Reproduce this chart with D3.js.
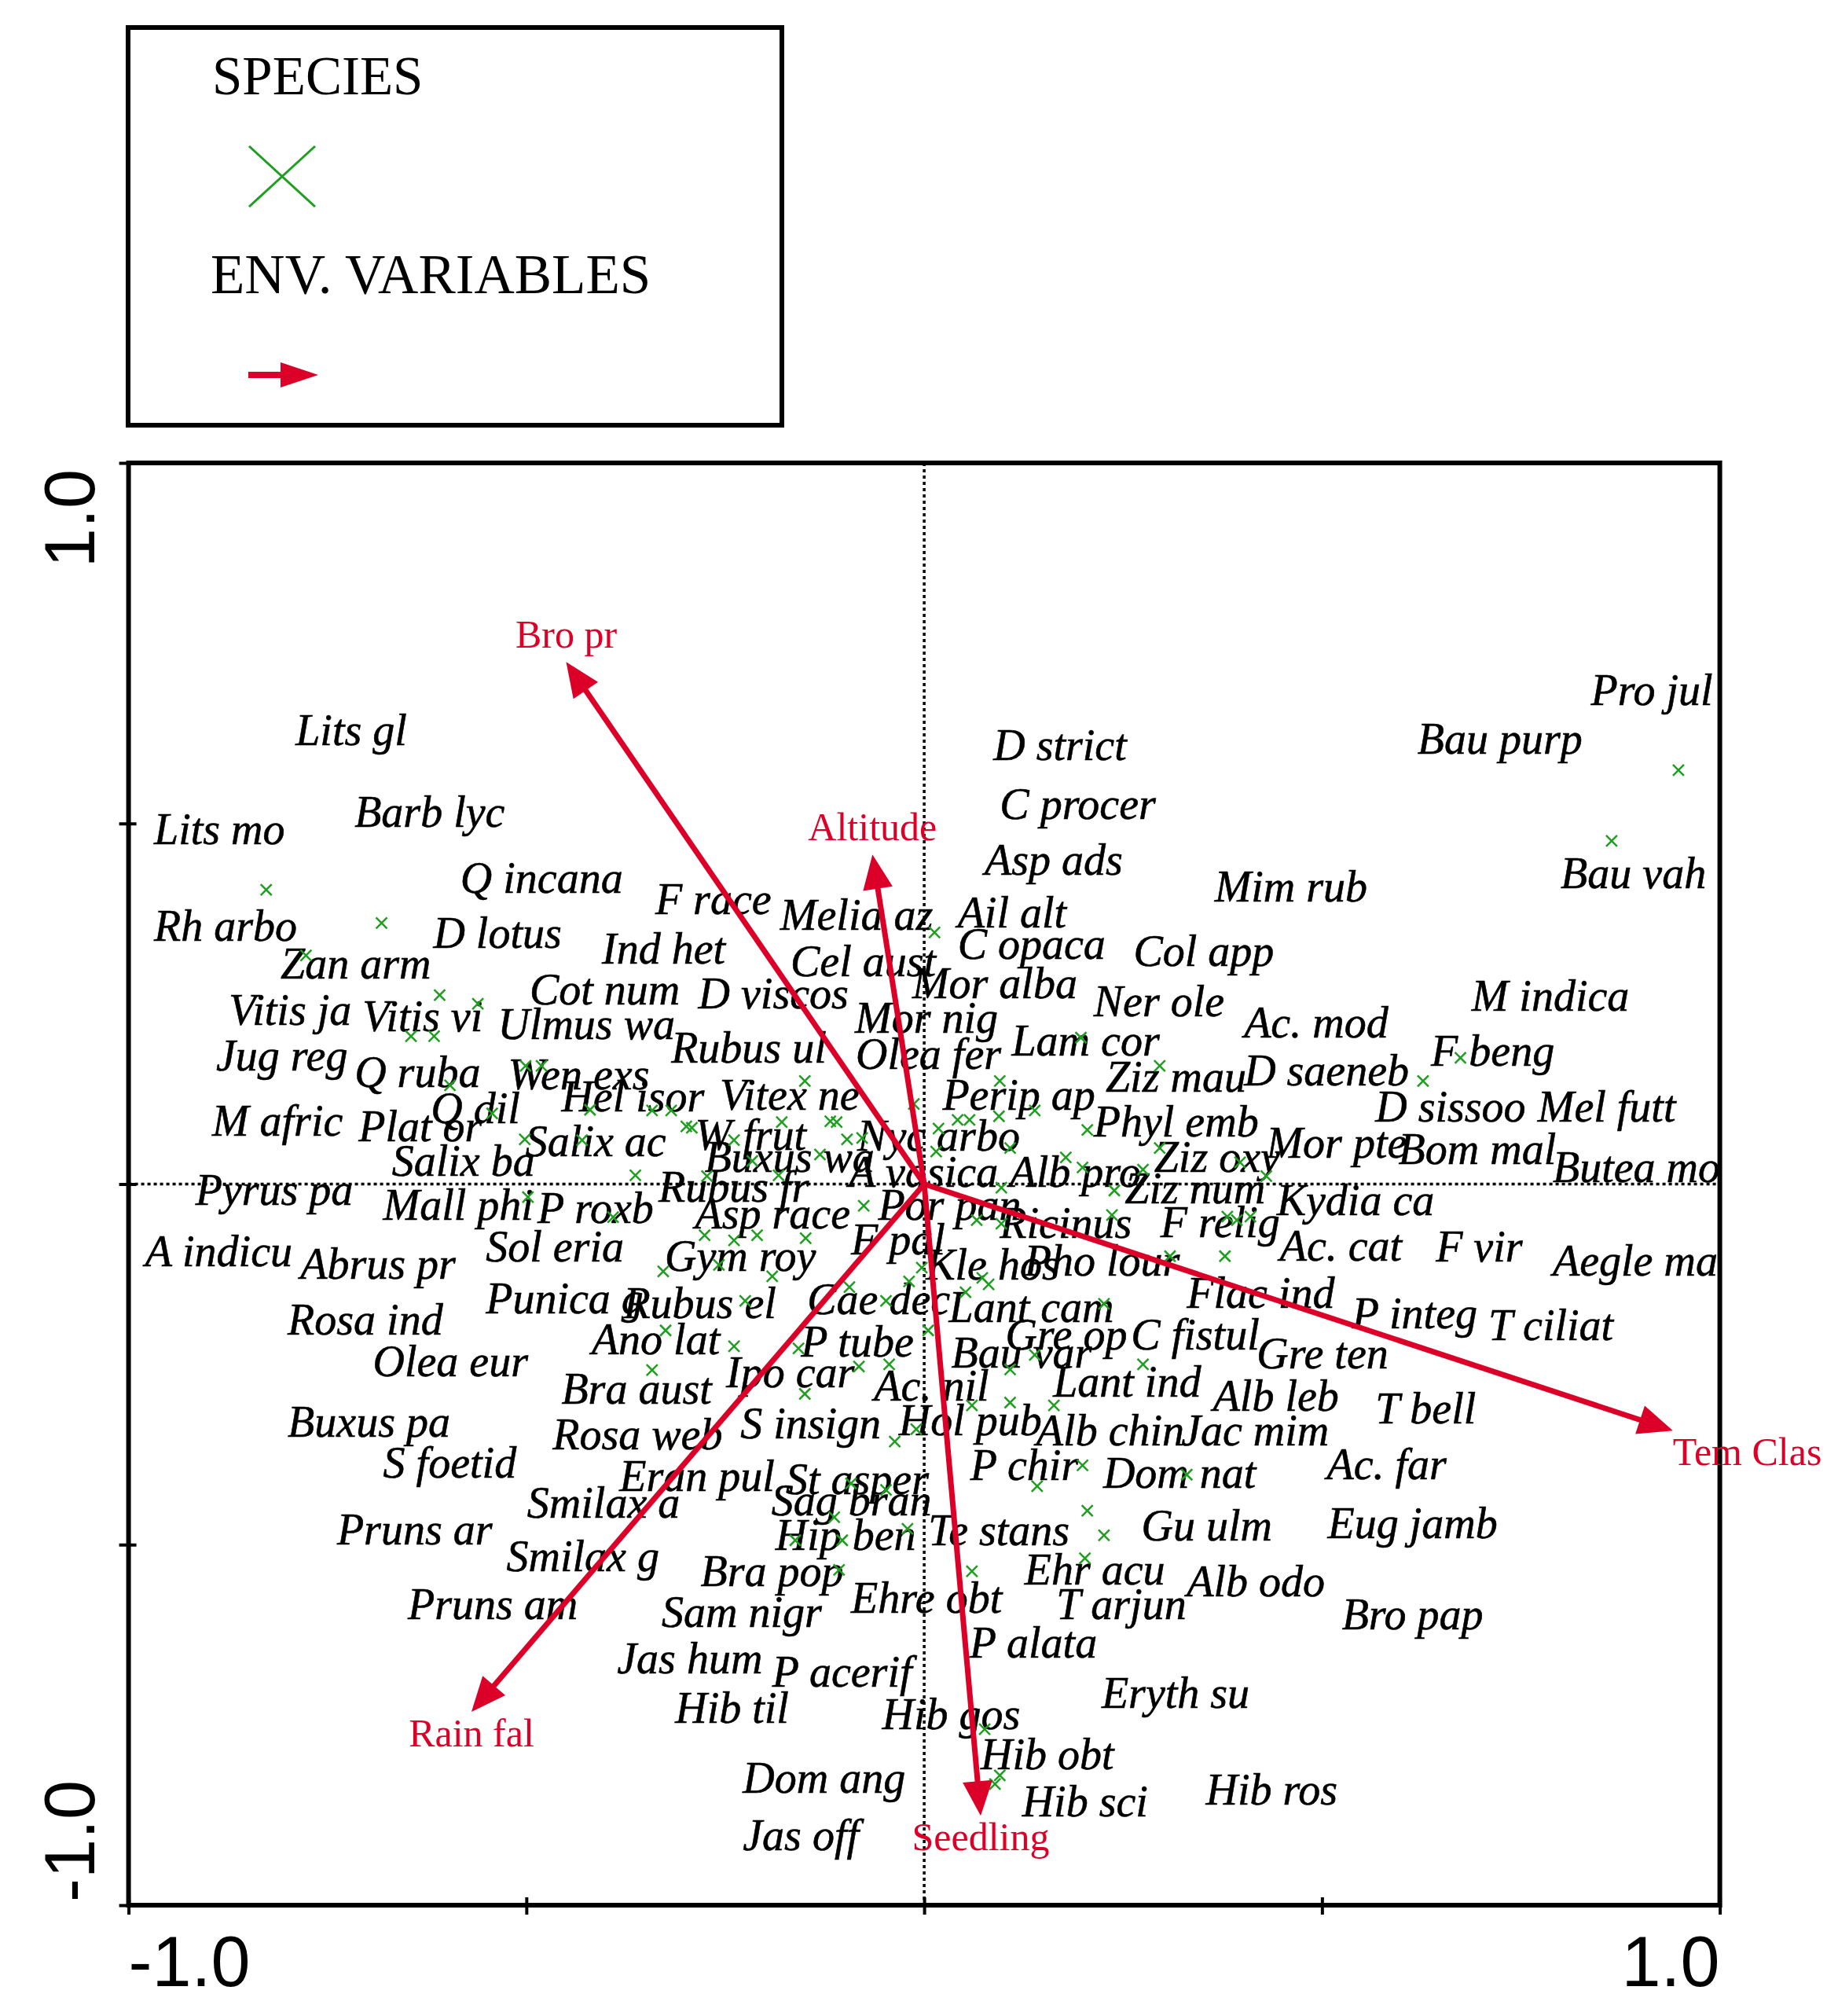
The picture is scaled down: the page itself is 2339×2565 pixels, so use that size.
<!DOCTYPE html>
<html>
<head>
<meta charset="utf-8">
<script src="https://cdn.jsdelivr.net/npm/d3@7"></script>
<style>
  html, body { margin: 0; padding: 0; background: #fff; }
  svg { display: block; }
</style>
</head>
<body>
<svg id="chart" width="2339" height="2565"></svg>
<script>
// Axis ticks and end labels
const tickValues = [-1, -0.5, 0, 0.5, 1];
const axisEndLabels = ["-1.0", "1.0"];

// Environmental variables (arrow tips, data units)
const envNames = ["Bro pr", "Altitude", "Tem Clas", "Seedling", "Rain fal"];
const envX = [-0.450, -0.065, 0.941, 0.071, -0.569];
const envY = [0.724, 0.457, -0.342, -0.876, -0.732];

// Species labels: [name, left x, middle y] in data units
const speciesLabels = [
  ["Lits gl", -0.790, 0.629], ["Lits mo", -0.968, 0.492], ["Barb lyc", -0.716, 0.515],
  ["Q incana", -0.583, 0.424], ["Rh arbo", -0.968, 0.358], ["D lotus", -0.617, 0.348],
  ["F race", -0.338, 0.394], ["Ind het", -0.405, 0.326], ["Zan arm", -0.809, 0.305],
  ["Melia az", -0.181, 0.373], ["Ail alt", 0.042, 0.376], ["Cel aust", -0.168, 0.308],
  ["C opaca", 0.042, 0.332], ["Col app", 0.263, 0.323], ["D strict", 0.087, 0.608],
  ["C procer", 0.095, 0.526], ["Asp ads", 0.076, 0.449], ["Mim rub", 0.365, 0.412],
  ["Pro jul", 0.838, 0.684], ["Bau purp", 0.620, 0.617], ["Bau vah", 0.800, 0.431],
  ["Vitis ja", -0.874, 0.241], ["Vitis vi", -0.706, 0.232], ["Cot num", -0.496, 0.269],
  ["D viscos", -0.284, 0.264], ["Mor alba", -0.015, 0.278], ["Ner ole", 0.213, 0.253],
  ["M indica", 0.688, 0.260], ["Ulmus wa", -0.536, 0.221], ["Mor nig", -0.087, 0.230],
  ["Ac. mod", 0.402, 0.223], ["Jug reg", -0.890, 0.178], ["Q ruba", -0.716, 0.155],
  ["Rubus ul", -0.318, 0.189], ["Olea fer", -0.086, 0.180], ["Lam cor", 0.110, 0.198],
  ["F beng", 0.637, 0.184], ["Wen exs", -0.523, 0.152], ["Ziz mau", 0.228, 0.148],
  ["D saeneb", 0.402, 0.157], ["Hel isor", -0.456, 0.121], ["Vitex ne", -0.257, 0.123],
  ["Perip ap", 0.023, 0.123], ["D sissoo", 0.567, 0.107], ["Mel futt", 0.771, 0.107],
  ["M afric", -0.895, 0.087], ["Plat or", -0.711, 0.080], ["Q dil", -0.620, 0.105],
  ["Phyl emb", 0.213, 0.086], ["Salix ac", -0.501, 0.059], ["W frut", -0.288, 0.068],
  ["Nyc arbo", -0.084, 0.066], ["Salix ba", -0.669, 0.032], ["Buxus wa", -0.276, 0.037],
  ["Mor pte", 0.430, 0.057], ["Bom mal", 0.596, 0.048], ["Ziz oxy", 0.289, 0.037],
  ["Butea mo", 0.790, 0.023], ["A vasica", -0.095, 0.016], ["Alb pro", 0.107, 0.016],
  ["Ziz num", 0.252, -0.007], ["Kydia ca", 0.443, -0.023], ["Pyrus pa", -0.916, -0.009],
  ["Mall phi", -0.680, -0.029], ["P roxb", -0.486, -0.034], ["Rubus fr", -0.334, -0.004],
  ["Asp race", -0.288, -0.041], ["Por pan", -0.058, -0.029], ["Ricinus", 0.095, -0.055],
  ["F relig", 0.297, -0.053], ["F pal", -0.092, -0.077], ["Ac. cat", 0.447, -0.086],
  ["F vir", 0.643, -0.087], ["Aegle ma", 0.790, -0.107], ["A indicu", -0.979, -0.094],
  ["Abrus pr", -0.784, -0.111], ["Sol eria", -0.551, -0.087], ["Gym roy", -0.326, -0.100],
  ["Kle hos", 0.002, -0.112], ["Pho lour", 0.126, -0.107], ["Flac ind", 0.330, -0.152],
  ["P integ", 0.538, -0.180], ["T ciliat", 0.709, -0.196], ["Punica g", -0.551, -0.159],
  ["Rubus el", -0.378, -0.166], ["Cae dec", -0.147, -0.160], ["Lant cam", 0.031, -0.171],
  ["Rosa ind", -0.800, -0.189], ["Gre op", 0.102, -0.209], ["C fistul", 0.260, -0.209],
  ["Gre ten", 0.418, -0.235], ["Ano lat", -0.418, -0.216], ["P tube", -0.155, -0.219],
  ["Olea eur", -0.693, -0.246], ["Bau var", 0.034, -0.234], ["Ipo car", -0.249, -0.262],
  ["Lant ind", 0.162, -0.275], ["Ac. nil", -0.063, -0.280], ["Bra aust", -0.456, -0.285],
  ["Alb leb", 0.363, -0.294], ["T bell", 0.567, -0.312], ["Buxus pa", -0.800, -0.330],
  ["Rosa web", -0.467, -0.348], ["S insign", -0.231, -0.332], ["Hol pub", -0.032, -0.328],
  ["Alb chin", 0.141, -0.342], ["Jac mim", 0.323, -0.342], ["S foetid", -0.680, -0.387],
  ["Eran pul", -0.383, -0.405], ["St asper", -0.174, -0.410], ["P chir", 0.058, -0.390],
  ["Dom nat", 0.225, -0.401], ["Ac. far", 0.506, -0.389], ["Smilax a", -0.499, -0.442],
  ["Sag bran", -0.192, -0.439], ["Pruns ar", -0.738, -0.480], ["Hip ben", -0.187, -0.487],
  ["Te stans", 0.005, -0.481], ["Gu ulm", 0.273, -0.474], ["Eug jamb", 0.507, -0.471],
  ["Smilax g", -0.525, -0.517], ["Bra pop", -0.281, -0.537], ["Ehr acu", 0.126, -0.535],
  ["Alb odo", 0.330, -0.551], ["Pruns am", -0.649, -0.583], ["Sam nigr", -0.330, -0.594],
  ["Ehre obt", -0.092, -0.574], ["T arjun", 0.166, -0.583], ["Bro pap", 0.525, -0.597],
  ["P alata", 0.057, -0.636], ["Jas hum", -0.386, -0.658], ["P acerif", -0.191, -0.677],
  ["Eryth su", 0.223, -0.706], ["Hib til", -0.313, -0.727], ["Hib gos", -0.053, -0.736],
  ["Hib obt", 0.071, -0.791], ["Dom ang", -0.228, -0.824], ["Hib sci", 0.123, -0.857],
  ["Hib ros", 0.354, -0.840], ["Jas off", -0.228, -0.904]
];

// Species scores (the green crosses), data units
const speciesPoints = [
  [-0.827, 0.408], [-0.682, 0.362], [-0.777, 0.317], [-0.609, 0.262], [-0.561, 0.250],
  [-0.645, 0.205], [-0.616, 0.205], [-0.501, 0.164], [-0.481, 0.164], [-0.596, 0.137],
  [-0.543, 0.098], [-0.420, 0.103], [-0.342, 0.102], [-0.318, 0.102], [-0.502, 0.062],
  [-0.430, 0.061], [-0.292, 0.078], [-0.239, 0.061], [-0.179, 0.086], [-0.150, 0.143],
  [-0.110, 0.086], [-0.097, 0.062], [-0.363, 0.012], [-0.273, 0.011], [-0.183, 0.012],
  [-0.131, 0.041], [-0.498, -0.018], [-0.391, -0.046], [-0.276, -0.071], [-0.239, -0.078],
  [-0.210, -0.071], [-0.149, -0.075], [-0.076, -0.030], [-0.328, -0.121], [-0.258, -0.112],
  [-0.191, -0.128], [-0.225, -0.162], [-0.094, -0.143], [-0.048, -0.162], [-0.325, -0.203],
  [-0.239, -0.225], [-0.158, -0.228], [-0.342, -0.258], [-0.150, -0.291], [-0.082, -0.253],
  [-0.044, -0.250], [-0.003, -0.116], [-0.019, -0.135], [0.052, -0.150], [0.073, -0.130],
  [0.081, -0.139], [0.005, -0.203], [0.108, -0.257], [0.139, -0.237], [0.226, -0.166],
  [0.275, -0.250], [0.060, -0.307], [0.108, -0.303], [0.163, -0.307], [-0.037, -0.357],
  [-0.010, -0.340], [-0.092, -0.415], [-0.048, -0.424], [-0.113, -0.462], [-0.021, -0.478],
  [-0.162, -0.494], [-0.103, -0.494], [-0.107, -0.535], [0.060, -0.537], [0.142, -0.419],
  [0.199, -0.390], [0.330, -0.403], [0.205, -0.453], [0.226, -0.487], [0.202, -0.519],
  [0.076, -0.756], [0.095, -0.820], [0.089, -0.832], [0.013, 0.349], [-0.013, 0.111],
  [0.042, 0.089], [0.057, 0.089], [0.018, 0.077], [0.015, 0.045], [0.094, 0.094],
  [0.095, 0.143], [0.139, 0.102], [0.197, 0.203], [0.205, 0.075], [0.108, 0.050],
  [0.178, 0.037], [0.199, 0.023], [0.275, 0.020], [0.296, 0.050], [0.296, 0.164],
  [0.430, 0.011], [0.397, 0.030], [0.097, -0.005], [0.239, -0.009], [0.066, -0.050],
  [0.097, -0.055], [0.236, -0.043], [0.393, -0.050], [0.378, -0.100], [0.309, -0.100],
  [0.381, -0.045], [0.410, -0.045], [0.627, 0.143], [0.674, 0.175], [0.864, 0.476],
  [0.948, 0.574], [-0.299, 0.080], [-0.216, 0.032], [-0.118, 0.087], [-0.078, 0.064]
];

const RED = "#dc0028";
const GREEN = "#1f9f1f";
const SERIF = "'Liberation Serif', 'Times New Roman', serif";
const SANS = "'Liberation Sans', Arial, sans-serif";

const svg = d3.select("#chart");
svg.append("rect").attr("width", 2339).attr("height", 2565).attr("fill", "#fff");

// Plot area scales
const x = d3.scaleLinear().domain([-1, 1]).range([163.6, 2188.6]);
const y = d3.scaleLinear().domain([-1, 1]).range([2424, 589]);

// draw an arrow from (x1,y1) to (x2,y2) in pixels
function arrow(g, x1, y1, x2, y2, width, headLen, headHalf) {
  const dx = x2 - x1, dy = y2 - y1;
  const len = Math.sqrt(dx * dx + dy * dy);
  const ux = dx / len, uy = dy / len;
  const bx = x2 - ux * headLen, by = y2 - uy * headLen;
  g.append("line")
    .attr("x1", x1).attr("y1", y1)
    .attr("x2", x2 - ux * (headLen - 4)).attr("y2", y2 - uy * (headLen - 4))
    .attr("stroke", RED).attr("stroke-width", width);
  g.append("polygon")
    .attr("points", [
      [x2, y2],
      [bx - uy * headHalf, by + ux * headHalf],
      [bx + uy * headHalf, by - ux * headHalf]
    ].map(p => p.join(",")).join(" "))
    .attr("fill", RED);
}

// Legend
const legend = svg.append("g");
legend.append("rect")
  .attr("x", 163).attr("y", 35).attr("width", 832).attr("height", 506)
  .attr("fill", "none").attr("stroke", "#000").attr("stroke-width", 6);
legend.append("text")
  .attr("x", 270).attr("y", 120)
  .attr("font-family", SERIF).attr("font-size", 69)
  .text("SPECIES");
legend.append("path")
  .attr("d", "M317,186L401,263M401,186L317,263")
  .attr("stroke", GREEN).attr("stroke-width", 3).attr("fill", "none");
legend.append("text")
  .attr("x", 268).attr("y", 373)
  .attr("font-family", SERIF).attr("font-size", 71)
  .text("ENV. VARIABLES");
arrow(legend, 316, 477, 405, 477, 8, 48, 16);

// Zero lines (dotted)
svg.append("line")
  .attr("x1", x(0)).attr("x2", x(0)).attr("y1", y(1)).attr("y2", y(-1))
  .attr("stroke", "#000").attr("stroke-width", 3.5).attr("stroke-dasharray", "4,4");
svg.append("line")
  .attr("x1", x(-1)).attr("x2", x(1)).attr("y1", y(0)).attr("y2", y(0))
  .attr("stroke", "#000").attr("stroke-width", 3.5).attr("stroke-dasharray", "4,4");

// Ticks
const xAxis = d3.axisBottom(x).tickValues(tickValues).tickSizeInner(12).tickSizeOuter(0).tickFormat("");
svg.append("g")
  .attr("transform", `translate(0,${y(-1)})`)
  .call(xAxis)
  .call(g => g.select(".domain").remove())
  .selectAll(".tick line").attr("stroke-width", 4).attr("y1", -10);

const yAxis = d3.axisLeft(y).tickValues(tickValues).tickSizeInner(12).tickSizeOuter(0).tickFormat("");
svg.append("g")
  .attr("transform", `translate(${x(-1)},0)`)
  .call(yAxis)
  .call(g => g.select(".domain").remove())
  .selectAll(".tick line").attr("stroke-width", 4).attr("x1", 10);

// Frame
svg.append("rect")
  .attr("x", x(-1)).attr("y", y(1))
  .attr("width", x(1) - x(-1)).attr("height", y(-1) - y(1))
  .attr("fill", "none").attr("stroke", "#000").attr("stroke-width", 6);

// Axis end labels
svg.append("text")
  .attr("x", x(-1)).attr("y", 2527)
  .attr("font-family", SANS).attr("font-size", 90)
  .text(axisEndLabels[0]);
svg.append("text")
  .attr("x", x(1)).attr("y", 2527).attr("text-anchor", "end")
  .attr("font-family", SANS).attr("font-size", 90)
  .text(axisEndLabels[1]);
svg.append("text")
  .attr("transform", `translate(120,${y(1) + 8}) rotate(-90)`)
  .attr("text-anchor", "end")
  .attr("font-family", SANS).attr("font-size", 90)
  .text(axisEndLabels[1]);
svg.append("text")
  .attr("transform", `translate(120,${y(-1) - 4}) rotate(-90)`)
  .attr("font-family", SANS).attr("font-size", 90)
  .text(axisEndLabels[0]);

// Species labels
svg.append("g")
  .selectAll("text")
  .data(speciesLabels)
  .enter()
  .append("text")
  .attr("x", d => x(d[1]))
  .attr("y", d => y(d[2]))
  .attr("dy", "0.33em")
  .attr("font-family", SERIF)
  .attr("font-style", "italic")
  .attr("font-size", 56)
  .attr("fill", "#000")
  .attr("stroke", "#000")
  .attr("stroke-width", 0.6)
  .text(d => d[0]);

// Species points
const s = 7;
svg.append("g")
  .selectAll("path")
  .data(speciesPoints)
  .enter()
  .append("path")
  .attr("d", d => {
    const px = x(d[0]), py = y(d[1]);
    return `M${px - s},${py - s}L${px + s},${py + s}M${px + s},${py - s}L${px - s},${py + s}`;
  })
  .attr("stroke", GREEN)
  .attr("stroke-width", 2.5)
  .attr("fill", "none");

// Environmental arrows
const envG = svg.append("g");
envNames.forEach((name, i) => {
  const tx = x(envX[i]), ty = y(envY[i]);
  arrow(envG, x(0), y(0), tx, ty, 7, 44, 19);
  const sideways = Math.abs(envX[i]) > 2 * Math.abs(envY[i]);
  envG.append("text")
    .attr("x", tx)
    .attr("y", envY[i] < 0 ? ty + 44 : ty - 18)
    .attr("text-anchor", sideways ? "start" : "middle")
    .attr("font-family", SERIF)
    .attr("font-size", 50)
    .attr("fill", RED)
    .text(name);
});
</script>
</body>
</html>
